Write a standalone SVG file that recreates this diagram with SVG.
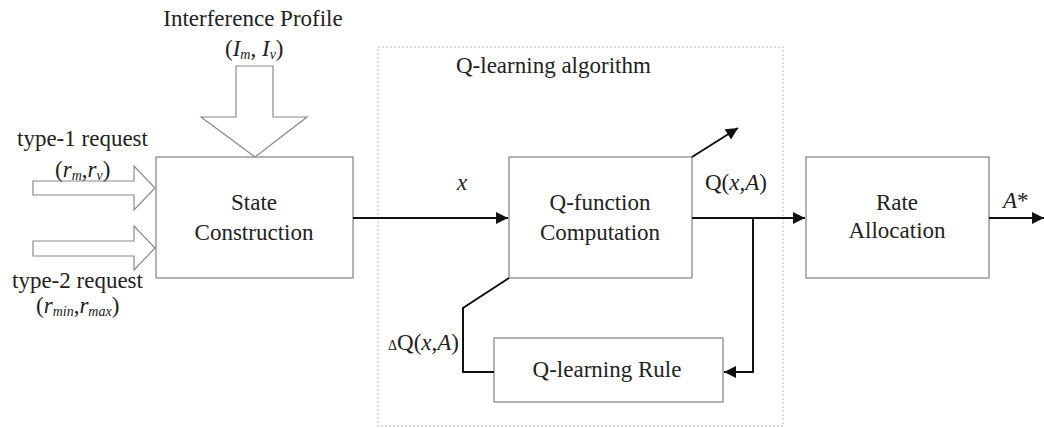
<svg xmlns="http://www.w3.org/2000/svg" width="1044" height="428" viewBox="0 0 1044 428">
<style>
text{font-family:"Liberation Serif","Times New Roman",serif;font-size:23px;fill:#222}
.box{fill:#fff;stroke:#8a8a8a;stroke-width:1.3}
.big{fill:#fff;stroke:#8a8a8a;stroke-width:1.2}
.con{fill:none;stroke:#111;stroke-width:2}
.it{font-style:italic}
.sub{font-size:14px;font-style:italic}
.mid{text-anchor:middle}
</style>
<defs>
<marker id="ahb" viewBox="0 0 10 10" refX="10" refY="5" markerWidth="14" markerHeight="12" markerUnits="userSpaceOnUse" orient="auto">
<path d="M0,0 L10,5 L0,10 z" fill="#111"/>
</marker>
</defs>
<rect id="qlearn-area" x="378" y="47" width="405" height="379" fill="none" stroke="#bbb" stroke-width="1" stroke-dasharray="2,2"/>
<text x="456" y="73">Q-learning algorithm</text>

<g id="interference">
<path class="big" d="M236,66 H273 V117 H307 L255,157 L201,117 H236 Z"/>
<text class="mid" x="253" y="26">Interference Profile</text>
<text x="225" y="56">(<tspan class="it">I</tspan><tspan class="sub" dy="3">m</tspan><tspan dy="-3">, </tspan><tspan class="it">I</tspan><tspan class="sub" dy="3">v</tspan><tspan dy="-3">)</tspan></text>
</g>
<g id="type1">
<path class="big" d="M33,181 H134 V166 L155,188 L134,210 V195 H33 Z"/>
<text x="17" y="146">type-1 request</text>
<text x="55" y="177">(<tspan class="it">r</tspan><tspan class="sub" dy="3">m</tspan><tspan dy="-3">,</tspan><tspan class="it">r</tspan><tspan class="sub" dy="3">v</tspan><tspan dy="-3">)</tspan></text>
</g>
<g id="type2">
<path class="big" d="M33,241 H134 V226 L155,248 L134,270 V256 H33 Z"/>
<text x="12" y="288">type-2 request</text>
<text x="36" y="313">(<tspan class="it">r</tspan><tspan class="sub" dy="3">min</tspan><tspan dy="-3">,</tspan><tspan class="it">r</tspan><tspan class="sub" dy="3">max</tspan><tspan dy="-3">)</tspan></text>
</g>

<g id="state">
<rect class="box" x="156" y="157" width="197" height="121"/>
<text class="mid" x="254" y="210">State</text>
<text class="mid" x="254" y="240">Construction</text>
</g>
<g id="qfunc">
<rect class="box" x="509" y="157" width="183" height="121"/>
<text class="mid" x="600" y="210">Q-function</text>
<text class="mid" x="600" y="240">Computation</text>
</g>
<g id="rate">
<rect class="box" x="806" y="157" width="183" height="121"/>
<text class="mid" x="897" y="210">Rate</text>
<text class="mid" x="897" y="238">Allocation</text>
</g>
<g id="rule">
<rect class="box" x="494" y="338" width="229" height="64"/>
<text class="mid" x="607" y="377">Q-learning Rule</text>
</g>

<g id="connectors">
<path class="con" d="M353,218 H508" marker-end="url(#ahb)"/>
<path class="con" d="M692,218 H805" marker-end="url(#ahb)"/>
<path class="con" d="M989,218 H1044" marker-end="url(#ahb)"/>
<path class="con" d="M753,218 V372 H724" marker-end="url(#ahb)"/>
<path class="con" d="M494,372 H463 V308 L509,278"/>
<path class="con" d="M692,157 L738,128" marker-end="url(#ahb)"/>
</g>
<text class="it" x="457" y="190">x</text>
<text x="705" y="190">Q(<tspan class="it">x</tspan>,<tspan class="it">A</tspan>)</text>
<text x="1003" y="208"><tspan class="it">A</tspan>*</text>
<text x="388" y="350"><tspan font-size="14">Δ</tspan>Q(<tspan class="it">x</tspan>,<tspan class="it">A</tspan>)</text>
</svg>
